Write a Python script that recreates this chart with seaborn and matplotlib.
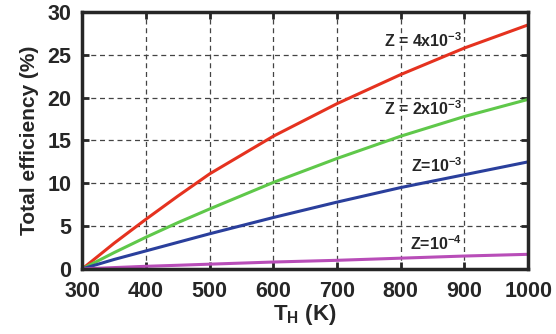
import numpy as np
import pandas as pd
import seaborn as sns
import matplotlib.pyplot as plt

# hot-side temperature (K), cold side fixed at 300 K
t_hot = [300, 350, 400, 450, 500, 600, 700, 800, 900, 1000]
eff_z4e3 = [0.0, 3.0, 5.8, 8.5, 11.1, 15.5, 19.3, 22.7, 25.8, 28.5]
eff_z2e3 = [0.0, 1.9, 3.7, 5.4, 7.0, 10.1, 12.9, 15.5, 17.8, 19.8]
eff_z1e3 = [0.0, 1.1, 2.1, 3.1, 4.1, 6.0, 7.8, 9.5, 11.0, 12.5]
eff_z1e4 = [0.0, 0.15, 0.3, 0.42, 0.55, 0.8, 1.0, 1.25, 1.5, 1.7]

series = {'Z4e-3': eff_z4e3, 'Z2e-3': eff_z2e3, 'Z1e-3': eff_z1e3, 'Z1e-4': eff_z1e4}
colors = {'Z4e-3': '#e5321f', 'Z2e-3': '#5fc84a', 'Z1e-3': '#2a3f9c', 'Z1e-4': '#b84db8'}

df = pd.DataFrame([(t, name, v) for name, vals in series.items() for t, v in zip(t_hot, vals)],
                  columns=['T', 'Z', 'eff'])

sns.set_style('ticks')
plt.rcParams['font.family'] = ['Liberation Sans', 'DejaVu Sans']
plt.rcParams['font.weight'] = 'bold'
plt.rcParams['mathtext.fontset'] = 'custom'
plt.rcParams['mathtext.rm'] = 'Liberation Sans:bold'
plt.rcParams['mathtext.it'] = 'Liberation Sans:bold'
plt.rcParams['mathtext.bf'] = 'Liberation Sans:bold'

fig, ax = plt.subplots(figsize=(5.56, 3.34), dpi=100)
fig.subplots_adjust(left=0.148, right=0.95, top=0.964, bottom=0.195)

sns.lineplot(data=df, x='T', y='eff', hue='Z', palette=colors, linewidth=2.2,
             legend=False, ax=ax)

ax.set_xlim(300, 1000)
ax.set_ylim(0, 30)
ax.set_xticks(range(300, 1001, 100))
ax.set_yticks(range(0, 31, 5))
ax.grid(True, linestyle=(0, (4, 3)), color='#444444', linewidth=0.9)
ax.tick_params(direction='in', length=5, width=2, labelsize=15.5, top=True, right=True)
ax.tick_params(axis='x', pad=9)
ax.tick_params(axis='y', pad=8)
for lab in ax.get_xticklabels() + ax.get_yticklabels():
    lab.set_fontweight('bold')
for s in ax.spines.values():
    s.set_linewidth(2.5)
    s.set_visible(True)

ax.set_xlabel(r'T$_\mathregular{H}$ (K)', fontsize=16, fontweight='bold', labelpad=0)
ax.set_ylabel('Total efficiency (%)', fontsize=15, fontweight='bold', labelpad=6)

ax.text(896, 25.6, r'Z = 4x10$^{-3}$', ha='right', va='bottom', fontsize=11.5, fontweight='bold')
ax.text(896, 17.6, r'Z = 2x10$^{-3}$', ha='right', va='bottom', fontsize=11.5, fontweight='bold')
ax.text(896, 11.0, r'Z=10$^{-3}$', ha='right', va='bottom', fontsize=11.5, fontweight='bold')
ax.text(896, 1.9, r'Z=10$^{-4}$', ha='right', va='bottom', fontsize=11.5, fontweight='bold')

fig.savefig('out.png', dpi=100)
